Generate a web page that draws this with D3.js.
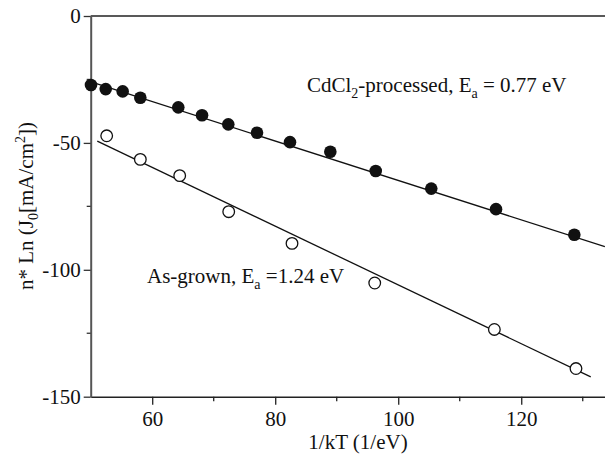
<!DOCTYPE html>
<html>
<head>
<meta charset="utf-8">
<script src="https://cdn.jsdelivr.net/npm/d3@7/dist/d3.min.js"></script>
<style>
  html, body { margin: 0; padding: 0; background: #fff; }
  svg { display: block; }
  text { font-family: "Liberation Serif", "Times New Roman", serif; fill: #111; }
</style>
</head>
<body>
<svg id="chart" width="605" height="457"></svg>
<script>
// ---- data ----
const cdclX = [50.05, 52.44, 55.2, 58.07, 64.24, 68.1, 72.37, 77.04, 82.4, 88.96, 96.34, 105.37, 115.9, 128.63];
const cdclY = [-27.2, -28.8, -29.7, -32.2, -36.0, -39.1, -42.7, -46.0, -49.7, -53.5, -61.1, -68.0, -76.1, -86.2];
const grownX = [52.6, 58.07, 64.47, 72.44, 82.73, 96.18, 115.63, 128.9];
const grownY = [-47.2, -56.5, -62.9, -77.1, -89.6, -105.2, -123.5, -138.9];
// fitted lines (endpoints)
const cdclFitX = [50.05, 133.6];
const cdclFitY = [-26.0, -90.9];
const grownFitX = [51.07, 131.3];
const grownFitY = [-49.3, -142.2];
const xTicks = [60, 80, 100, 120];
const xMinor = [70, 90, 110, 130];
const yTicks = [0, -50, -100, -150];
const yMinor = [-25, -75, -125];

const FS = 21, SUB = 14;
const svg = d3.select("#chart");
const L = 90.7, R = 613.5, T = 16, B = 396.7;
const x = d3.scaleLinear().domain([50, 135]).range([L, R]);
const y = d3.scaleLinear().domain([-150, 0]).range([B, T]);

// top frame line
svg.append("line").attr("x1", L).attr("x2", 605).attr("y1", T).attr("y2", T)
  .attr("stroke", "#222").attr("stroke-width", 1.6);

// x axis
const xAxis = svg.append("g").attr("transform", `translate(0,${B})`)
  .call(d3.axisBottom(x).tickValues(xTicks).tickFormat(d => String(d)).tickSize(8).tickPadding(6).tickSizeOuter(0));
xAxis.select(".domain").attr("stroke", "#222").attr("stroke-width", 1.6);
xAxis.selectAll(".tick line").attr("stroke", "#222").attr("stroke-width", 1.3);
xAxis.selectAll("text").style("font-size", FS + "px").style("font-family", "Liberation Serif, serif").attr("fill", "#111");
svg.append("g").selectAll("line").data(xMinor).join("line")
  .attr("x1", d => x(d)).attr("x2", d => x(d)).attr("y1", B).attr("y2", B + 4.5)
  .attr("stroke", "#222").attr("stroke-width", 1.3);

// y axis
const yAxis = svg.append("g").attr("transform", `translate(${L},0)`)
  .call(d3.axisLeft(y).tickValues(yTicks).tickFormat(d => String(d)).tickSize(7).tickPadding(3).tickSizeOuter(0));
yAxis.select(".domain").attr("stroke", "#555").attr("stroke-width", 2);
yAxis.selectAll(".tick line").attr("stroke", "#333").attr("stroke-width", 1.3);
yAxis.selectAll("text").style("font-size", FS + "px").style("font-family", "Liberation Serif, serif").attr("fill", "#111");
svg.append("g").selectAll("line").data(yMinor).join("line")
  .attr("x1", L).attr("x2", L - 4).attr("y1", d => y(d)).attr("y2", d => y(d))
  .attr("stroke", "#333").attr("stroke-width", 1.3);

// fit lines
const line = d3.line().x(d => x(d[0])).y(d => y(d[1]));
svg.append("path").datum(d3.zip(cdclFitX, cdclFitY)).attr("d", line)
  .attr("fill", "none").attr("stroke", "#111").attr("stroke-width", 1.3);
svg.append("path").datum(d3.zip(grownFitX, grownFitY)).attr("d", line)
  .attr("fill", "none").attr("stroke", "#111").attr("stroke-width", 1.3);

// points
svg.append("g").selectAll("circle").data(d3.zip(cdclX, cdclY)).join("circle")
  .attr("cx", d => x(d[0])).attr("cy", d => y(d[1])).attr("r", 6.3)
  .attr("fill", "#111");
svg.append("g").selectAll("circle").data(d3.zip(grownX, grownY)).join("circle")
  .attr("cx", d => x(d[0])).attr("cy", d => y(d[1])).attr("r", 5.8)
  .attr("fill", "#fff").attr("stroke", "#111").attr("stroke-width", 1.3);

// x title
svg.append("text").attr("x", 358).attr("y", 449).attr("text-anchor", "middle")
  .style("font-size", FS + "px").text("1/kT (1/eV)");

// y title
const yt = svg.append("text").attr("transform", "translate(33,206) rotate(-90)")
  .attr("text-anchor", "middle").style("font-size", FS + "px");
yt.append("tspan").text("n* Ln (J");
yt.append("tspan").attr("dy", 5).style("font-size", SUB + "px").text("0");
yt.append("tspan").attr("dy", -5).text("[mA/cm");
yt.append("tspan").attr("dy", -8).style("font-size", SUB + "px").text("2");
yt.append("tspan").attr("dy", 8).text("])");

// annotations
const a1 = svg.append("text").attr("x", 307).attr("y", 92).style("font-size", FS + "px");
a1.append("tspan").text("CdCl");
a1.append("tspan").attr("dy", 6).style("font-size", SUB + "px").text("2");
a1.append("tspan").attr("dy", -6).text("-processed, E");
a1.append("tspan").attr("dy", 6).style("font-size", SUB + "px").text("a");
a1.append("tspan").attr("dy", -6).text(" = 0.77 eV");

const a2 = svg.append("text").attr("x", 147).attr("y", 283).style("font-size", FS + "px");
a2.append("tspan").text("As-grown, E");
a2.append("tspan").attr("dy", 6).style("font-size", SUB + "px").text("a");
a2.append("tspan").attr("dy", -6).text(" =1.24 eV");
</script>
</body>
</html>
